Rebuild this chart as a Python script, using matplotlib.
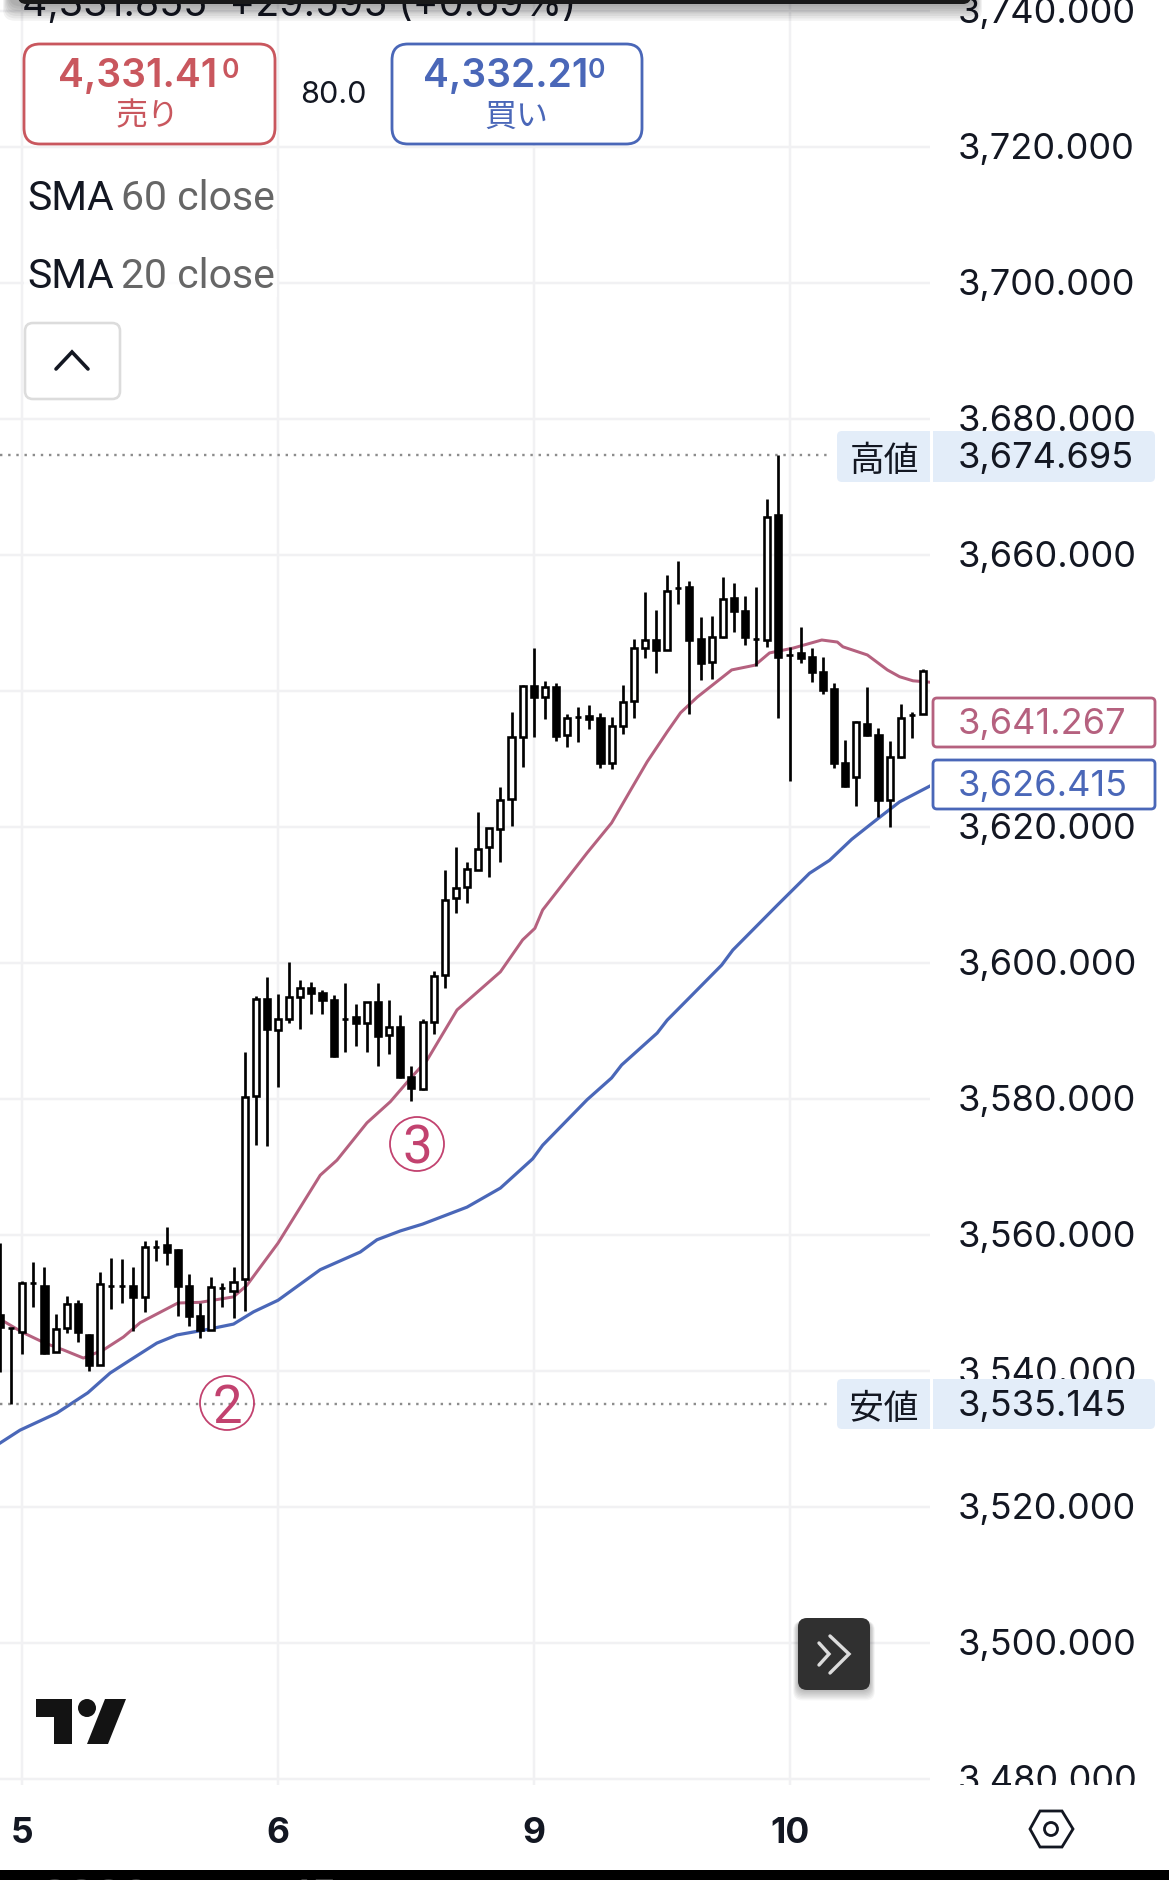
import matplotlib
matplotlib.use("Agg")
import matplotlib.pyplot as plt
from matplotlib.patches import Circle, FancyBboxPatch, Polygon, Rectangle
from matplotlib.transforms import ScaledTranslation

WIDTH, HEIGHT = 1169, 1880
CHART_RIGHT, CHART_BOTTOM = 930, 1785
BAR_STEP = 11.12
PX_PER_UNIT = 6.8
CJK = ["Noto Sans CJK JP", "DejaVu Sans"]
LATIN = "Inter"
BLACK = "#000000"
PINK = "#b5617f"
BLUE = "#4a67b8"
RED = "#c9575e"
TAG_BLUE = "#e3edf9"
MARK = "#c2426f"

# candles, one entry per bar
opens = [3548.2, 3546.3, 3545.7, 3552.9, 3552.5, 3542.8, 3546.3, 3549.9, 3545.3, 3540.9, 3552.5, 3552.5,
         3552.5, 3550.9, 3558.2, 3558.5, 3557.8, 3552.5, 3548.1, 3546.0, 3552.2, 3551.8, 3553.5, 3580.4,
         3594.7, 3590.1, 3591.8, 3595.0, 3596.3, 3595.6, 3594.6, 3591.8, 3592.1, 3591.2, 3594.3, 3589.4,
         3590.6, 3583.2, 3581.5, 3591.3, 3598.2, 3609.6, 3611.2, 3613.7, 3617.1, 3619.7, 3624.1, 3633.2,
         3640.7, 3639.1, 3640.6, 3633.5, 3636.2, 3636.3, 3636.0, 3629.4, 3634.9, 3638.5, 3646.3, 3647.5,
         3646.0, 3655.1, 3655.3, 3647.6, 3644.3, 3647.9, 3653.7, 3651.8, 3647.6, 3647.5, 3665.9, 3645.3,
         3645.6, 3645.0, 3642.8, 3640.3, 3629.4, 3627.4, 3635.1, 3633.5, 3624.0, 3630.3, 3636.5, 3636.6]
closes = [3546.5, 3546.3, 3552.9, 3552.9, 3542.6, 3546.2, 3549.9, 3545.7, 3540.9, 3552.8, 3552.5, 3552.5,
          3550.9, 3558.2, 3558.2, 3557.5, 3552.5, 3548.1, 3546.0, 3552.4, 3552.2, 3553.1, 3580.3, 3594.7,
          3590.3, 3591.8, 3595.0, 3596.3, 3595.6, 3594.6, 3586.3, 3591.8, 3591.2, 3594.3, 3589.3, 3590.6,
          3583.2, 3581.6, 3591.3, 3598.1, 3609.3, 3611.0, 3613.8, 3616.8, 3619.9, 3624.0, 3633.2, 3640.7,
          3639.1, 3640.6, 3633.4, 3636.0, 3636.2, 3635.9, 3629.4, 3634.9, 3638.4, 3646.3, 3647.5, 3646.0,
          3654.7, 3655.1, 3647.5, 3644.1, 3647.9, 3653.5, 3651.8, 3647.9, 3647.6, 3665.6, 3645.0, 3645.3,
          3644.9, 3642.8, 3640.1, 3629.4, 3626.0, 3635.4, 3633.5, 3624.0, 3630.3, 3636.0, 3636.5, 3642.9]
highs = [3558.8, 3546.3, 3553.2, 3556.0, 3555.3, 3548.4, 3551.0, 3550.4, 3545.4, 3554.6, 3556.6, 3556.5,
         3555.3, 3559.1, 3559.3, 3561.2, 3557.9, 3554.3, 3550.0, 3553.8, 3552.9, 3555.3, 3586.9, 3595.1,
         3597.9, 3595.4, 3600.1, 3597.5, 3597.2, 3596.0, 3595.3, 3597.1, 3594.0, 3594.3, 3597.1, 3594.6,
         3592.4, 3584.9, 3591.8, 3598.8, 3613.7, 3617.1, 3614.9, 3622.2, 3619.9, 3625.9, 3636.9, 3640.9,
         3646.3, 3641.5, 3641.2, 3636.6, 3637.6, 3637.9, 3636.8, 3636.2, 3640.9, 3647.6, 3654.6, 3651.9,
         3657.1, 3659.1, 3656.2, 3650.9, 3651.0, 3656.8, 3655.9, 3654.0, 3655.3, 3668.2, 3674.7, 3646.5,
         3649.4, 3646.3, 3645.0, 3641.2, 3632.8, 3635.6, 3640.6, 3634.6, 3632.6, 3638.1, 3636.9, 3643.2]
lows = [3539.9, 3535.15, 3542.5, 3549.4, 3542.5, 3542.8, 3545.6, 3544.3, 3540.0, 3540.9, 3549.1, 3550.0,
        3545.9, 3548.7, 3556.2, 3555.6, 3548.1, 3546.6, 3544.9, 3546.0, 3549.4, 3547.8, 3548.8, 3573.2,
        3573.1, 3581.8, 3591.2, 3590.3, 3592.5, 3592.5, 3586.2, 3586.9, 3587.8, 3586.9, 3584.9, 3586.6,
        3583.1, 3579.7, 3581.3, 3589.6, 3596.3, 3607.4, 3608.8, 3613.7, 3612.6, 3614.9, 3620.1, 3628.8,
        3633.2, 3635.9, 3632.6, 3631.8, 3632.5, 3634.4, 3628.7, 3628.5, 3633.7, 3636.0, 3644.9, 3642.6,
        3646.0, 3652.8, 3636.6, 3641.6, 3641.8, 3647.8, 3648.7, 3646.8, 3643.7, 3646.5, 3636.0, 3626.8,
        3644.1, 3641.3, 3639.6, 3628.7, 3625.9, 3623.1, 3633.4, 3621.5, 3620.0, 3630.1, 3633.1, 3636.6]

# moving averages, read at the bends of each line
sma20_bars = [0.45, 2.0, 4.05, 5.7, 7.5, 9.3, 11.1, 12.6, 16, 18, 21, 22.2, 25, 28.8, 30.3, 33, 35.1, 37, 38.4,
              41.1, 45, 47, 48.1, 48.8, 52.8, 55, 56.7, 58.2, 60, 61.2, 62.7, 65.8, 67.9, 69.2, 71.3, 73.9,
              75.3, 75.8, 78, 79.8, 80.9, 82.1, 83.6]
sma20 = [3547.2, 3545.7, 3544.1, 3543.1, 3541.9, 3543.1, 3545.0, 3547.1, 3550.0, 3550.1, 3550.9, 3552.6, 3558.8,
         3568.8, 3571.0, 3576.5, 3579.6, 3583.2, 3585.7, 3593.1, 3598.7, 3603.4, 3605.1, 3607.8, 3616.2, 3620.6,
         3625.4, 3629.6, 3634.0, 3636.8, 3639.1, 3643.1, 3643.8, 3645.6, 3646.3, 3647.5, 3647.2, 3646.5, 3645.3,
         3643.1, 3642.1, 3641.5, 3641.3]
sma60_bars = [0, 1.8, 5.1, 7.9, 9.9, 11.7, 14.1, 15.9, 18.3, 21, 22.8, 25, 28.8, 32.4, 33.9, 36, 38, 42, 45,
              47.9, 48.8, 52.8, 55, 55.9, 59.1, 60, 62, 64.9, 65.9, 69.9, 72.8, 74.6, 76.6, 79, 80.9, 83.6]
sma60 = [3529.4, 3531.3, 3533.8, 3536.8, 3539.7, 3541.6, 3544.1, 3545.3, 3546.0, 3546.9, 3548.7, 3550.4, 3554.9,
         3557.5, 3559.3, 3560.6, 3561.6, 3564.1, 3566.9, 3571.2, 3573.2, 3579.9, 3583.1, 3585.0, 3589.7, 3591.6,
         3594.9, 3599.7, 3601.9, 3608.5, 3613.2, 3615.1, 3618.2, 3621.3, 3623.7, 3626.0]

price_ticks = [3480, 3500, 3520, 3540, 3560, 3580, 3600, 3620, 3640, 3660, 3680, 3700, 3720, 3740]
hidden_price_label = 3640  # sits under the sma tags on the axis
date_bars = [2, 25, 48, 71]
date_labels = ["5", "6", "9", "10"]
session_high = 3674.695
session_low = 3535.145
last_sma20 = 3641.267
last_sma60 = 3626.415
dotted_end_bar = 74.6


def px(value):
    """ screen pixels to matplotlib linewidth points (figure is at 100 dpi) """
    return value * 0.72


fig = plt.figure(figsize=(WIDTH / 100, HEIGHT / 100), dpi=100, facecolor="white")
ax = fig.add_axes([0, (HEIGHT - CHART_BOTTOM) / HEIGHT, CHART_RIGHT / WIDTH, CHART_BOTTOM / HEIGHT])
ax.set_xlim(0, CHART_RIGHT / BAR_STEP)
ax.set_ylim(3500 - (CHART_BOTTOM - 1643) / PX_PER_UNIT, 3500 + 1643 / PX_PER_UNIT)
for side in ax.spines.values():
    side.set_visible(False)

ax.set_xticks(date_bars, date_labels, fontfamily=LATIN, fontweight="bold", fontsize=25.5, color="#131722")
price_labels = ["" if p == hidden_price_label else f"{p:,.3f}" for p in price_ticks]
ax.set_yticks(price_ticks, price_labels, fontfamily=LATIN, fontsize=26, color="#131722")
ax.yaxis.tick_right()
ax.tick_params(axis="x", length=0, pad=23)
ax.tick_params(axis="y", length=0, pad=20)
nudge_down = ScaledTranslation(0, -2.4 / 100, fig.dpi_scale_trans)
for tick_label in ax.get_yticklabels():
    tick_label.set_verticalalignment("center")
    tick_label.set_transform(tick_label.get_transform() + nudge_down)
ax.grid(True, color="#f1f1f3", linewidth=px(2.5), zorder=0)
ax.set_axisbelow(True)

ax.plot(sma20_bars, sma20, color=PINK, linewidth=px(3.0), zorder=2)
ax.plot(sma60_bars, sma60, color=BLUE, linewidth=px(3.2), zorder=2)
for level in (session_high, session_low):
    ax.plot([0, dotted_end_bar], [level, level], color="#8c8c8c", linewidth=px(2.4),
            linestyle=(0, (1, 2.4)), zorder=2)

bars = range(len(opens))
ax.vlines(bars, lows, highs, color=BLACK, linewidth=px(2.7), zorder=3)
bodies = [c - o for o, c in zip(opens, closes)]
faces = ["white" if c >= o else BLACK for o, c in zip(opens, closes)]
ax.bar(bars, bodies, bottom=opens, width=0.55, color=faces, edgecolor=BLACK, linewidth=px(2.6), zorder=4)

# everything around the chart is drawn on a second axes in screen pixels
ui = fig.add_axes([0, 0, 1, 1], facecolor="none")
ui.set_xlim(0, WIDTH)
ui.set_ylim(HEIGHT, 0)
ui.axis("off")


def box(x0, y0, x1, y1, radius=0, face="white", edge="none", lw=0.0, zorder=5, alpha=None):
    if radius:
        patch = FancyBboxPatch((x0 + radius, y0 + radius), x1 - x0 - 2 * radius, y1 - y0 - 2 * radius,
                               boxstyle=f"round,pad={radius},rounding_size={radius}", facecolor=face,
                               edgecolor=edge, linewidth=px(lw), zorder=zorder, alpha=alpha)
    else:
        patch = Rectangle((x0, y0), x1 - x0, y1 - y0, facecolor=face, edgecolor=edge, linewidth=px(lw),
                          zorder=zorder, alpha=alpha)
    ui.add_patch(patch)


def label(x, y, s, size, color="#131722", family=LATIN, ha="left", weight="normal", zorder=8):
    return ui.text(x, y, s, fontsize=size, color=color, family=family, ha=ha, va="center_baseline",
                   fontweight=weight, zorder=zorder)


def stroke(points, color, lw, zorder=8):
    xs, ys = zip(*points)
    ui.plot(xs, ys, color=color, linewidth=px(lw), solid_capstyle="round", solid_joinstyle="miter", zorder=zorder)


# cut the lowest axis label at the bottom of the pane
box(CHART_RIGHT, CHART_BOTTOM, WIDTH, 1810, zorder=1)

# top sheet with its shadow, over the ohlc line
label(22, 1, "4,331.855  +29.595 (+0.69%)", 28.3, color="#131722", zorder=2)
for grow in range(7, 0, -1):
    box(10 - grow, -30, 975 + grow, 4 + grow * 2.4, radius=12, face="#000000", alpha=0.05, zorder=3)
box(18, -30, 971, 4, radius=8, face="#1a1a1a", zorder=4)

# buy / sell buttons
box(24, 44, 275, 144, radius=16, edge=RED, lw=2.8)
label(58, 72, "4,331.41", 28, color=RED, weight="semibold")
label(222, 68, "0", 19, color=RED, weight="semibold")
label(148, 113, "売り", 23, color=RED, family=CJK, ha="center")
label(333, 92, "80.0", 22, ha="center")
box(392, 44, 642, 144, radius=16, edge=BLUE, lw=2.8)
label(423, 72, "4,332.21", 28, color=BLUE, weight="semibold")
label(588, 68, "0", 19, color=BLUE, weight="semibold")
label(516, 113, "買い", 23, color=BLUE, family=CJK, ha="center")

# indicator legend
for y, length in ((195, "60"), (273, "20")):
    box(24, y - 24, 277, y + 24, face="white", alpha=0.85, zorder=5)
    label(27, y, "SMA", 29.5, color="#131722", family="Roboto")
    label(121, y, f"{length} close", 29.5, color="#666666", family="Roboto")
box(25, 323, 120, 399, radius=8, edge="#dcdcdc", lw=2.6)
stroke([(56, 369), (72, 352), (88, 369)], "#131722", 3.6)

# price tags on the axis
for y0, y1, word, value in ((431, 482, "高値", session_high), (1379, 1429, "安値", session_low)):
    box(837, y0, 930, y1, radius=5, face=TAG_BLUE)
    box(900, y0, 930, y1, face=TAG_BLUE)
    box(933, y0, 1155, y1, radius=5, face=TAG_BLUE)
    box(933, y0, 960, y1, face=TAG_BLUE)
    label(884, (y0 + y1) / 2 + 1, word, 25, family=CJK, ha="center")
    label(958, (y0 + y1) / 2 - 1, f"{value:,.3f}", 26)
for y0, y1, value, color in ((698, 747, last_sma20, PINK), (760, 809, last_sma60, BLUE)):
    box(933, y0, 1155, y1, radius=4, edge=color, lw=2.8)
    label(958, (y0 + y1) / 2 - 1, f"{value:,.3f}", 26, color=color)

# circled notes drawn on the chart
for x, y, digit in ((227, 1403, "2"), (417, 1144, "3")):
    ui.add_patch(Circle((x, y), 27, facecolor="none", edgecolor=MARK, linewidth=px(1.8), zorder=6))
    label(x, y, digit, 38, color=MARK, family="Roboto", ha="center", zorder=6)

# scroll to latest button
for grow in range(8, 0, -1):
    box(798 - grow * 0.6, 1618 + 3, 870 + grow * 0.6, 1690 + grow * 1.3, radius=9, face="#000000", alpha=0.035)
box(798, 1618, 870, 1690, radius=9, face="#303030", zorder=6)
stroke([(819, 1643), (829, 1654), (819, 1665)], "#dcdcdc", 3.4)
stroke([(830, 1636), (849, 1654), (830, 1673)], "#dcdcdc", 3.4)

# tradingview logo
ui.add_patch(Polygon([(36, 1699), (72, 1699), (72, 1744), (54, 1744), (54, 1717), (36, 1717)],
                     facecolor="#131313", edgecolor="none", zorder=6))
ui.add_patch(Circle((87, 1708), 9, facecolor="#131313", edgecolor="none", zorder=6))
ui.add_patch(Polygon([(105, 1699), (126, 1699), (108, 1744), (87, 1744)],
                     facecolor="#131313", edgecolor="none", zorder=6))

# settings hexagon
ui.add_patch(Polygon([(1030, 1829), (1040, 1811), (1062, 1811), (1073, 1829), (1062, 1847), (1040, 1847)],
                     facecolor="none", edgecolor="#131722", linewidth=px(2.8), zorder=6))
ui.add_patch(Circle((1051, 1829), 6.5, facecolor="none", edgecolor="#131722", linewidth=px(2.8), zorder=6))

# phone toolbar at the very bottom
box(0, 1870, WIDTH, 1890, face="#000000", zorder=6)
label(40, 1895, "3320", 32, color="#3a3a3a", zorder=7)
label(293, 1895, "15m", 32, color="#3a3a3a", zorder=7)

fig.savefig("out.png", dpi=100)
